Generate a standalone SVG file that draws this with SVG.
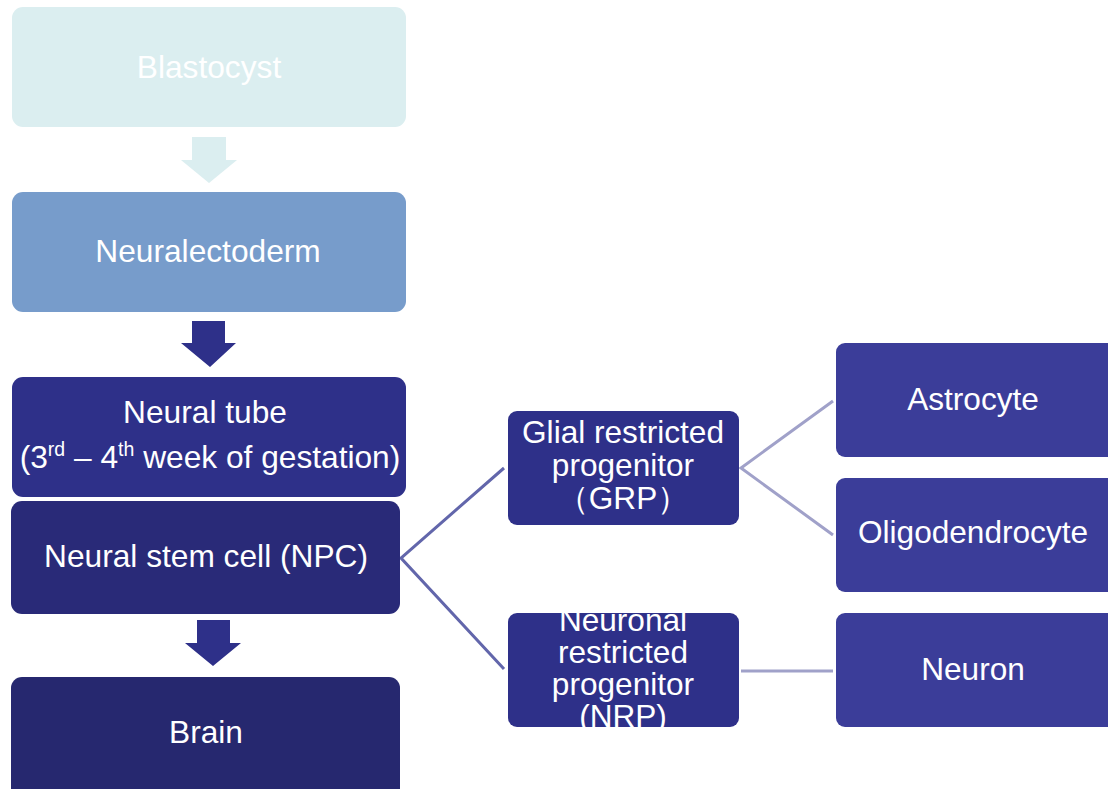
<svg xmlns="http://www.w3.org/2000/svg" width="1108" height="789" viewBox="0 0 1108 789">
<style>
text{font-family:"Liberation Sans",Arial,sans-serif;fill:#ffffff;text-anchor:middle;font-size:31.6px}
.big{font-size:31.7px}
.sup{font-size:19.5px}
.c1{stroke:#6266ab;stroke-width:3;fill:none}
.c2{stroke:#a0a1c9;stroke-width:3;fill:none}
</style>
<defs>
<clipPath id="clipNRP"><rect x="508" y="613" width="231" height="114" rx="9"/></clipPath>
</defs>
<rect width="1108" height="789" fill="#ffffff"/>
<g id="connectors">
<polygon points="192,137 226,137 226,160 237,160 209,183 181,160 192,160" fill="#dbeef0"/>
<polygon points="192,321 225,321 225,343 236,343 210,367 181,343 192,343" fill="#2e3089"/>
<polygon points="197,620 230,620 230,643 241,643 213,666 185,643 197,643" fill="#2e3089"/>
<polyline class="c1" points="504,468 401,558 504,669"/>
<polyline class="c2" points="833,401 741,468 833,535"/>
<line class="c2" x1="741" y1="671" x2="833" y2="671"/>
</g>
<g id="blastocyst">
<rect x="12" y="7" width="394" height="120" rx="11" fill="#dbeef0"/>
<text class="big" x="209" y="78">Blastocyst</text>
</g>
<g id="neuralectoderm">
<rect x="12" y="192" width="394" height="120" rx="11" fill="#779ccb"/>
<text class="big" x="208" y="262">Neuralectoderm</text>
</g>
<g id="neural-tube">
<rect x="12" y="377" width="394" height="120" rx="11" fill="#2e3089"/>
<text class="big" x="205" y="423">Neural tube</text>
<text class="big" x="210" y="468">(3<tspan class="sup" dy="-12">rd</tspan><tspan dy="12"> – 4</tspan><tspan class="sup" dy="-12">th</tspan><tspan dy="12"> week of gestation)</tspan></text>
</g>
<g id="npc">
<rect x="11" y="501" width="389" height="113" rx="11" fill="#292a78"/>
<text class="big" x="206" y="567">Neural stem cell (NPC)</text>
</g>
<g id="brain">
<rect x="11" y="677" width="389" height="125" rx="11" fill="#26286f"/>
<text class="big" x="206" y="743">Brain</text>
</g>
<g id="grp">
<rect x="508" y="411" width="231" height="114" rx="9" fill="#2e3089"/>
<text x="623" y="443">Glial restricted</text>
<text x="623" y="476">progenitor</text>
<text x="623" y="509">（GRP）</text>
</g>
<g id="nrp">
<rect x="508" y="613" width="231" height="114" rx="9" fill="#2e3089"/>
<g clip-path="url(#clipNRP)">
<text x="623" y="631">Neuronal</text>
<text x="623" y="663">restricted</text>
<text x="623" y="695">progenitor</text>
<text x="623" y="727">(NRP)</text>
</g>
</g>
<g id="astrocyte">
<rect x="836" y="343" width="282" height="114" rx="9" fill="#3b3d99"/>
<text x="973" y="410">Astrocyte</text>
</g>
<g id="oligodendrocyte">
<rect x="836" y="478" width="282" height="114" rx="9" fill="#3b3d99"/>
<text x="973" y="543">Oligodendrocyte</text>
</g>
<g id="neuron">
<rect x="836" y="613" width="282" height="114" rx="9" fill="#3b3d99"/>
<text x="973" y="680">Neuron</text>
</g>
</svg>
